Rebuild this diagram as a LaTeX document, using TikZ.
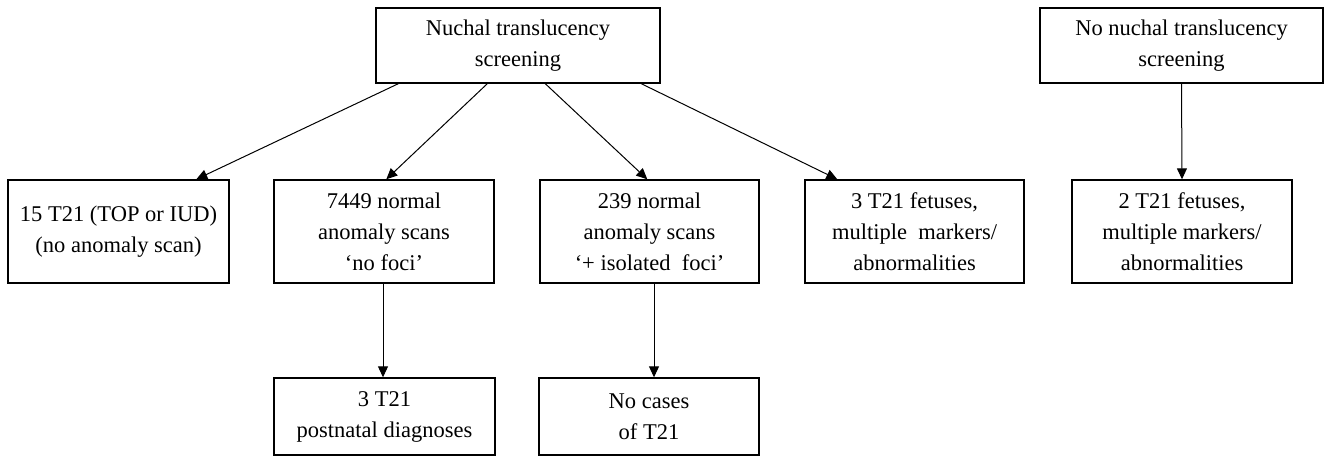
\documentclass[tikz,border=0pt]{standalone}
\usepackage{fontspec}
\setmainfont{Liberation Serif}
\usetikzlibrary{arrows.meta,calc}
\begin{document}
\begin{tikzpicture}[x=1pt,y=1pt,
  box/.style={draw,line width=1.4pt,rectangle,inner sep=0pt,align=center,
    font=\fontsize{22.5}{31}\selectfont},
  arr/.style={line width=1pt,-{Triangle[length=11pt,width=10pt]}}]
\useasboundingbox (0,0) rectangle (1324,-456);
\node[box,minimum width=284,minimum height=75] (top) at (518,-45.5) {Nuchal translucency\\screening};
\node[box,minimum width=283,minimum height=75] (non) at (1181.5,-45.5) {No nuchal translucency\\screening};
\node[box,minimum width=221,minimum height=103] (b1) at (118.5,-231.5) {15 T21 (TOP or IUD)\\(no anomaly scan)};
\node[box,minimum width=220,minimum height=103] (b2) at (384,-231.5) {7449 normal\\anomaly scans\\`no foci'};
\node[box,minimum width=219,minimum height=103] (b3) at (649.5,-231.5) {239 normal\\anomaly scans\\`+ isolated~ foci'};
\node[box,minimum width=219,minimum height=103] (b4) at (914.5,-231.5) {3 T21 fetuses,\\multiple~ markers/\\abnormalities};
\node[box,minimum width=220,minimum height=103] (b5) at (1182,-231.5) {2 T21 fetuses,\\multiple markers/\\abnormalities};
\node[box,minimum width=221,minimum height=77] (b6) at (384.5,-416.5) {3 T21\\postnatal diagnoses};
\node[box,minimum width=220,minimum height=77] (b7) at (649,-416.5) {No cases\\of T21};
\draw[arr] ($(top.south west)+(23,0)$) -- ($(b1.north west)+(189,0)$);
\draw[arr] ($(top.south west)+(112,0)$) -- ($(b2.north west)+(113,0)$);
\draw[arr] ($(top.south west)+(170,0)$) -- ($(b3.north west)+(108,0)$);
\draw[arr] ($(top.south west)+(266,0)$) -- ($(b4.north west)+(33,0)$);
\draw[arr] (non.south) -- (b5.north);
\draw[arr] ($(b2.south)+(-1,0)$) -- ($(b6.north)+(-1.5,0)$);
\draw[arr] ($(b3.south)+(4.5,0)$) -- ($(b7.north)+(5,0)$);
\end{tikzpicture}
\end{document}
